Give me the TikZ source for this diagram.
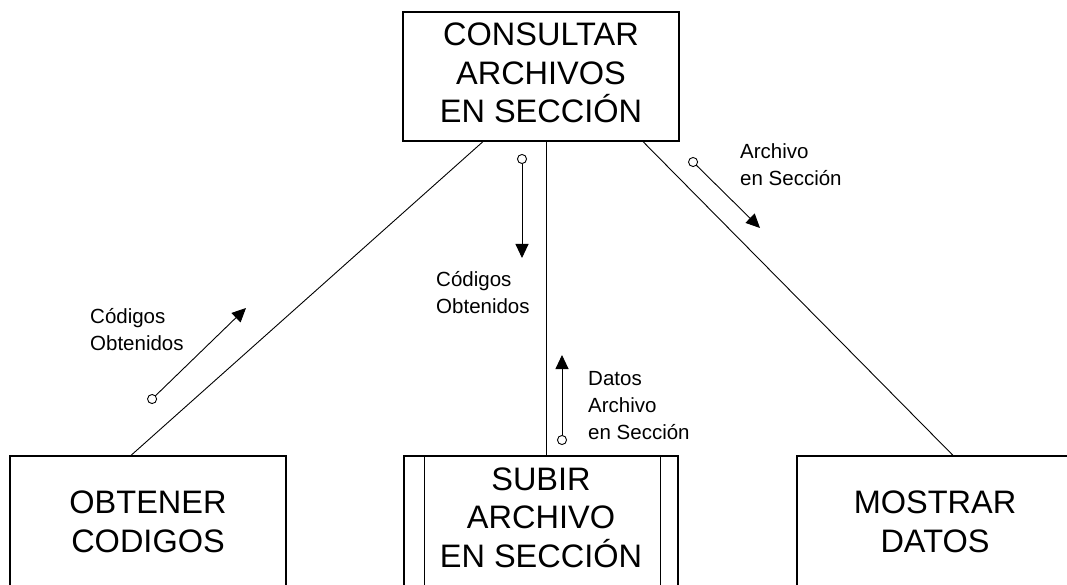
\documentclass[tikz,border=0pt]{standalone}
\usepackage{fontspec}
\setmainfont{Liberation Sans}
\usetikzlibrary{arrows.meta}
\begin{document}
\begin{tikzpicture}[x=1pt,y=-1pt,
  box/.style={draw, line width=1.2pt, minimum width=276pt, minimum height=129pt,
    inner sep=0pt, align=center, font=\fontsize{32.5}{38.5}\selectfont},
  bigtxt/.style={inner sep=0pt, align=center, font=\fontsize{32.5}{38.5}\selectfont},
  conn/.style={line width=0.9pt},
  flow/.style={line width=0.9pt,
    {Circle[open,length=10pt,width=10pt]}-{Triangle[length=14pt,width=13pt]}},
  lbl/.style={inner sep=0pt, align=left, anchor=base west,
    font=\fontsize{20.5}{27}\selectfont}]
\useasboundingbox (0,0) rectangle (1067,585);
\clip (0,0) rectangle (1067,585);
\fill[white] (0,0) rectangle (1067,585);

% boxes
\node[box] (top) at (541,76.5) {};
\node[bigtxt] (topt) at (541,73) {CONSULTAR\\ARCHIVOS\\EN SECCIÓN};
\node[box, minimum height=132pt] (obt) at (148,522) {OBTENER\\CODIGOS};
\node[box, minimum height=132pt, minimum width=274pt] (sub) at (541,522) {};
\node[bigtxt] (subt) at (541,517.5) {SUBIR\\ARCHIVO\\EN SECCIÓN};
\node[box, minimum height=132pt] (mos) at (935,522) {MOSTRAR\\DATOS};
\draw[line width=1.2pt] ([xshift=21pt]sub.north west) -- ([xshift=21pt]sub.south west);
\draw[line width=1.2pt] ([xshift=-18pt]sub.north east) -- ([xshift=-18pt]sub.south east);

% connectors
\draw[conn] ([xshift=-58pt]top.south) -- ([xshift=-17pt]obt.north);
\draw[conn] ([xshift=5pt]top.south) -- ([xshift=5pt]sub.north);
\draw[conn] ([xshift=102pt]top.south) -- ([xshift=18pt]mos.north);

% data flow arrows
\coordinate (a1s) at (148.5,402.5); \coordinate (a1e) at (246,308);
\coordinate (a2s) at (522,154);     \coordinate (a2e) at (522,258);
\coordinate (a3s) at (562,445);     \coordinate (a3e) at (562,355);
\coordinate (a4s) at (689.5,158.5); \coordinate (a4e) at (760,228);
\draw[flow] (a1s) -- (a1e);
\draw[flow] (a2s) -- (a2e);
\draw[flow] (a3s) -- (a3e);
\draw[flow] (a4s) -- (a4e);

% labels (anchored at the baseline of the last line)
\node[lbl] (l1) at (90,350) {Códigos\\Obtenidos};
\node[lbl] (l2) at (436,313) {Códigos\\Obtenidos};
\node[lbl] (l3) at (588,439) {Datos\\Archivo\\en Sección};
\node[lbl] (l4) at (740,186) {Archivo\\en Sección};
\end{tikzpicture}
\end{document}
